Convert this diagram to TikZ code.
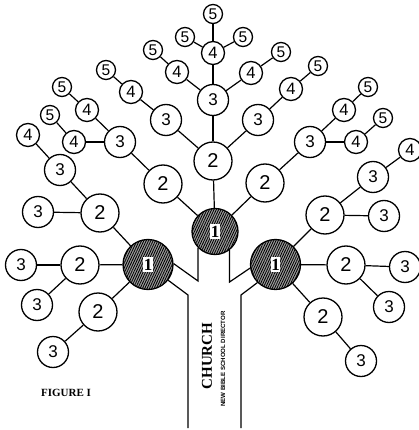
\documentclass[tikz,border=0pt]{standalone}
\usepackage{fontspec}
\setmainfont{Liberation Serif}
\newfontfamily\digitfont{Liberation Sans}
\usetikzlibrary{patterns.meta}
\begin{document}
\begin{tikzpicture}[x=1pt,y=-1pt,
  lv/.style={circle, draw, line width=1.3pt, fill=white, inner sep=0pt},
  lvtwo/.style={lv, minimum size=38pt, font=\digitfont\fontsize{20}{20}\selectfont},
  lvthree/.style={lv, minimum size=31pt, font=\digitfont\fontsize{17}{17}\selectfont},
  lvfour/.style={lv, minimum size=23pt, font=\digitfont\fontsize{16.5}{16.5}\selectfont},
  lvfive/.style={lv, minimum size=19pt, font=\digitfont\fontsize{15.5}{15.5}\selectfont},
  lvone/.style={circle, draw, line width=1.3pt, inner sep=0pt, fill=black!38,
    postaction={pattern={Lines[angle=65,distance=2.1pt,line width=0.85pt]}}},
  onebox/.style={fill=white, inner xsep=0.4pt, inner ysep=1.6pt, font=\bfseries\fontsize{17}{17}\selectfont},
  edge/.style={line width=1.2pt}]
\useasboundingbox (0,0) rectangle (418,430);

% level 1
\node[lvone, minimum size=46pt] (C) at (215,231.5) {};
\node[lvone, minimum size=50pt] (L) at (148,264.5) {};
\node[lvone, minimum size=50pt] (R) at (275.5,264.5) {};
\node[onebox] (Ct) at (C) {1};
\node[onebox] (Lt) at (L) {1};
\node[onebox] (Rt) at (R) {1};

% level 2
\foreach \n/\x/\y in {a2/100/213, b2/80/265, c2/98/312, d2/163/184, e2/213/161,
  f2/265/183, g2/325/215, h2/346/265, i2/323/317}
  \node[lvtwo] (\n) at (\x,\y) {2};

% level 3
\foreach \n/\x/\y in {a3/38/212, b3/60/170, c3/21/265, d3/37/305, e3/53/352,
  f3/120/142, g3/166/120, h3/213/100, i3/258/120, j3/310/142, k3/373/177,
  l3/384/216, m3/405/267, n3/389/307, o3/361/361}
  \node[lvthree] (\n) at (\x,\y) {3};

% level 4
\foreach \n/\x/\y in {a4/28/135, b4/74/142, c4/87/110, d4/131/92, e4/177/72,
  f4/213/53, g4/251/73, h4/291/89, i4/344/110, j4/356/142, k4/410/150}
  \node[lvfour] (\n) at (\x,\y) {4};

% level 5
\foreach \n/\x/\y in {a5/50/115, b5/62/87, c5/106/70, d5/153/50, e5/185/37,
  f5/213/14, g5/243/37, h5/281/52, i5/318/66, j5/368/87, k5/383/118}
  \node[lvfive] (\n) at (\x,\y) {5};

% connectors
\foreach \a/\b in {C/e2, C/d2, C/f2, L/a2, L/b2, L/c2, R/g2, R/h2, R/i2,
  a2/a3, a2/b3, b2/c3, b2/d3, c2/e3, d2/f3, e2/g3, e2/h3, e2/i3, f2/j3,
  g2/k3, g2/l3, h2/m3, h2/n3, i2/o3,
  b3/a4, f3/b4, f3/c4, g3/d4, h3/e4, h3/f4, h3/g4, i3/h4, j3/i4, j3/j4, k3/k4,
  b4/a5, c4/b5, d4/c5, e4/d5, f4/e5, f4/f5, f4/g5, g4/h5, h4/i5, i4/j5, j4/k5}
  \draw[edge] (\a) -- (\b);

% trunk
\coordinate (tlc) at (188,295);
\coordinate (tlb) at (188,428);
\coordinate (trc) at (241,295);
\coordinate (trb) at (241,428);
\coordinate (ily) at (0,281);
\coordinate (iry) at (0,282);
\coordinate (ilc) at (C.224 |- ily);
\coordinate (irc) at (C.-52 |- iry);
\draw[edge] (L.-38) -- (tlc) -- (tlb);
\draw[edge] (R.225) -- (trc) -- (trb);
\draw[edge] (C.224) -- (ilc) -- (L.2);
\draw[edge] (C.-52) -- (irc) -- (R.188);

% texts
\node[rotate=90, font=\bfseries\fontsize{15}{15}\selectfont, inner sep=0pt] (church) at (207,356) {CHURCH};
\node[rotate=90, font=\digitfont\bfseries\fontsize{6.1}{6.1}\selectfont, inner sep=0pt] (nbsd) at (223,359) {NEW BIBLE SCHOOL DIRECTOR};
\node[font=\bfseries\fontsize{11}{11}\selectfont, inner sep=0pt] (fig) at (66,393) {FIGURE I};
\end{tikzpicture}
\end{document}
